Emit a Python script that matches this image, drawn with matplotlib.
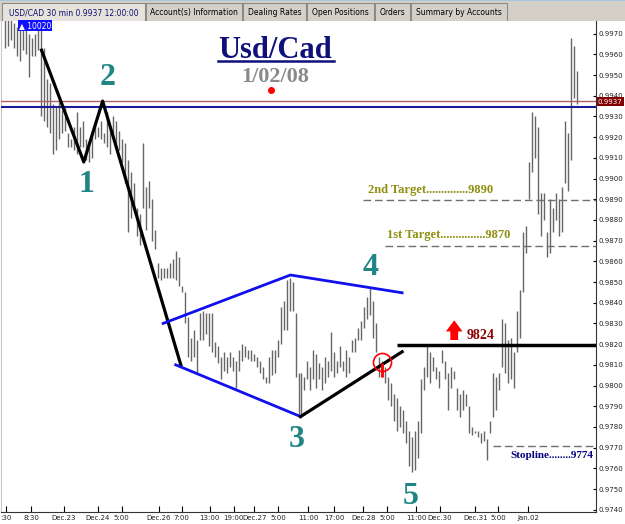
import matplotlib
matplotlib.use('Agg')
import matplotlib.pyplot as plt
from matplotlib.patches import Rectangle
from matplotlib.ticker import MultipleLocator, FormatStrFormatter

# 30 min bars, USD/CAD (price in pips: 9935 -> 0.9935)
highs = [
    9985, 9985, 9980, 9975, 9973, 9974, 9973, 9972, 9970, 9968,
    9970, 9972, 9975, 9963, 9948, 9946, 9936, 9935, 9937, 9933,
    9934, 9922, 9919, 9925, 9932, 9925, 9928, 9919, 9917, 9922,
    9927, 9925, 9928, 9922, 9932, 9925, 9930, 9928, 9923, 9919,
    9917, 9909, 9903, 9898, 9886, 9883, 9917, 9896, 9899, 9890,
    9875, 9859, 9857, 9857, 9857, 9859, 9861, 9865, 9862, 9848,
    9845, 9833, 9823, 9827, 9822, 9835, 9836, 9835, 9835, 9835,
    9821, 9819, 9814, 9816, 9814, 9816, 9814, 9812, 9817, 9820,
    9819, 9817, 9817, 9815, 9814, 9812, 9809, 9804, 9814, 9817,
    9817, 9822, 9838, 9841, 9851, 9852, 9850, 9835, 9806, 9806,
    9804, 9812, 9809, 9817, 9815, 9811, 9809, 9814, 9812, 9826,
    9816, 9812, 9819, 9812, 9817, 9814, 9822, 9823, 9828, 9831,
    9838, 9843, 9847, 9841, 9830, 9814, 9812, 9809, 9804, 9801,
    9796, 9794, 9790, 9788, 9783, 9778, 9775, 9778, 9783, 9803,
    9809, 9819, 9816, 9814, 9809, 9807, 9817, 9812, 9806, 9809,
    9807, 9799, 9796, 9798, 9796, 9790, 9780, 9778, 9778, 9777,
    9778, 9774, 9783, 9806, 9804, 9806, 9832, 9830, 9822, 9823,
    9816, 9836, 9846, 9874, 9877, 9908, 9932, 9930, 9925, 9893,
    9893, 9874, 9890, 9886, 9893, 9890, 9896, 9928, 9922, 9968,
    9964, 9952,
]
lows = [
    9963, 9964, 9967, 9963, 9959, 9957, 9962, 9960, 9949, 9959,
    9959, 9962, 9930, 9928, 9925, 9922, 9912, 9914, 9919, 9922,
    9923, 9915, 9915, 9914, 9912, 9915, 9915, 9909, 9908, 9910,
    9919, 9920, 9919, 9917, 9915, 9912, 9920, 9915, 9914, 9908,
    9898, 9874, 9881, 9885, 9872, 9868, 9886, 9875, 9886, 9870,
    9866, 9852, 9851, 9852, 9852, 9852, 9852, 9851, 9848, 9845,
    9830, 9814, 9812, 9814, 9806, 9822, 9822, 9825, 9819, 9816,
    9814, 9811, 9803, 9807, 9806, 9809, 9807, 9799, 9807, 9812,
    9814, 9813, 9812, 9812, 9809, 9806, 9803, 9801, 9801, 9805,
    9806, 9814, 9820, 9827, 9827, 9836, 9836, 9804, 9785, 9786,
    9798, 9803, 9798, 9803, 9799, 9803, 9798, 9801, 9804, 9807,
    9804, 9806, 9809, 9807, 9804, 9806, 9816, 9816, 9822, 9822,
    9828, 9832, 9834, 9823, 9816, 9804, 9804, 9801, 9793, 9790,
    9783, 9778, 9780, 9777, 9772, 9761, 9758, 9759, 9765, 9777,
    9798, 9804, 9801, 9807, 9803, 9799, 9811, 9803, 9788, 9799,
    9803, 9788, 9785, 9788, 9790, 9777, 9776, 9777, 9775, 9772,
    9773, 9764, 9777, 9785, 9788, 9798, 9809, 9806, 9801, 9803,
    9799, 9816, 9823, 9845, 9864, 9890, 9903, 9910, 9883, 9872,
    9880, 9862, 9864, 9874, 9880, 9872, 9874, 9898, 9894, 9909,
    9939, 9936,
]

# time axis (bar index)
tick_pos = [0.3, 8.7, 19.7, 31, 39, 51.3, 59, 68.3, 76.3, 83.2, 91.3,
            101.3, 110, 119.7, 127.7, 137.3, 145.3, 157, 164.7, 174.7]
tick_labels = [':30', '8:30', 'Dec.23', 'Dec.24', '5:00', 'Dec.26', '7:00',
               '13:00', '19:00', 'Dec.27', '5:00', '11:00', '17:00', 'Dec.28',
               '5:00', '11:00', 'Dec.30', 'Dec.31', '5:00', 'Jan.02']

# drawn wave lines
zigzag_x = [12.2, 26.3, 32.6, 58.7]
zigzag_y = [9962, 9908, 9937.4, 9810]
upper_x = [52.8, 95.3, 132.6]
upper_y = [9830, 9853.4, 9844.8]
lower_x = [57, 98.7]
lower_y = [9810, 9785]
trend_x = [98.7, 132.6]
trend_y = [9785, 9816.3]

# wave counts
wave_labels = ['1', '2', '3', '4', '5']
wave_x = [27.3, 34.3, 97.3, 122, 135.3]
wave_y = [9897, 9949, 9774, 9857, 9746.5]

# levels
level_blue = 9934.5
level_red = 9937.4
breakout = 9819.6
target1 = 9867.2
target2 = 9889.6
stopline = 9770.8

serif = ['Liberation Serif', 'DejaVu Serif']
teal = '#1f8585'

fig = plt.figure(figsize=(6.25, 5.24), dpi=100)
fig.patch.set_facecolor('white')
ax = fig.add_axes([1 / 625, 1 - 512 / 524, 595 / 625, 491 / 524])

p = lambda v: v / 10000.0
idx = list(range(len(highs)))
ax.vlines(idx, [p(v) for v in lows], [p(v) for v in highs], color='#666666', lw=1.0, zorder=2)

x0, x1 = -1.333, 197.33
ax.set_xlim(x0, x1)
ax.set_ylim(0.97389, 0.99761)

# horizontal levels
ax.axhline(p(level_red), color='#b06060', lw=1, zorder=3)
ax.axhline(p(level_blue), color='#1a1a9a', lw=1.5, zorder=3)
ax.hlines(p(breakout), 130.9, x1, color='black', lw=2.5, zorder=4)
dash = (0, (5.5, 2.8))
ax.hlines(p(target2), 119.7, x1, color='#707070', lw=1, linestyles=dash, zorder=3)
ax.hlines(p(target1), 127, x1, color='#707070', lw=1, linestyles=dash, zorder=3)
ax.hlines(p(stopline), 163, x1, color='#707070', lw=1, linestyles=dash, zorder=3)

# pattern lines
ax.plot(zigzag_x, [p(v) for v in zigzag_y], color='black', lw=2.3, zorder=4)
ax.plot(upper_x, [p(v) for v in upper_y], color='#1010ee', lw=2, zorder=4)
ax.plot(lower_x, [p(v) for v in lower_y], color='#1010ee', lw=2, zorder=4)
ax.plot(trend_x, [p(v) for v in trend_y], color='black', lw=2.3, zorder=4)

for lab, wx, wy in zip(wave_labels, wave_x, wave_y):
    ax.text(wx, p(wy), lab, family=serif, fontweight='bold', fontsize=23,
            color=teal, ha='center', va='center', zorder=5)

# title
ax.text(90.3, p(9958.2), 'Usd/Cad', family=serif, fontweight='bold', fontsize=22,
        color='#10107a', ha='center', va='baseline', zorder=5)
ax.plot([71, 109.7], [p(9956.6), p(9956.6)], color='#10107a', lw=1.8, zorder=5)
ax.text(90.3, p(9946.6), '1/02/08', family=serif, fontweight='bold', fontsize=16,
        color='#8a8a8a', ha='center', va='baseline', zorder=5)
ax.plot([88.7], [p(9942.8)], 'o', color='red', ms=4, zorder=5)

# targets and stop
ax.text(121.3, p(9893.0), '2nd Target' + '.' * 14 + '9890', family=serif, fontweight='bold',
        fontsize=9, color='#8f8f10', va='baseline', zorder=5)
ax.text(127.7, p(9871.3), '1st Target' + '.' * 15 + '9870', family=serif, fontweight='bold',
        fontsize=9, color='#8f8f10', va='baseline', zorder=5)
ax.text(168.7, p(9765.0), 'Stopline' + '.' * 8 + '9774', family=serif, fontweight='bold',
        fontsize=8, color='#000080', va='baseline', zorder=5)
ax.text(154, p(9822.3), '9824', family=serif, fontweight='bold', fontsize=10,
        color='#8b0000', va='baseline', zorder=5)
ax.annotate('', xy=(150, p(9831.5)), xytext=(150, p(9822.0)),
            arrowprops=dict(arrowstyle='simple,head_width=1.5,head_length=1.0,tail_width=0.7',
                            color='red', lw=0, mutation_scale=8,
                            shrinkA=0, shrinkB=0), zorder=5)

# breakout circle
ax.plot([126], [p(9811.4)], 'o', mfc='none', mec='red', mew=1.2, ms=13, zorder=5)
ax.vlines(126, p(9804), p(9811), color='red', lw=2, zorder=5)

# axes styling
ax.yaxis.tick_right()
ax.yaxis.set_major_locator(MultipleLocator(0.001))
ax.yaxis.set_major_formatter(FormatStrFormatter('%.4f'))
ax.tick_params(axis='y', direction='in', length=2.5, width=0.8, pad=1.5,
               labelsize=5, labelcolor='#222222')
ax.set_xticks(tick_pos)
ax.set_xticklabels(tick_labels)
ax.tick_params(axis='x', direction='in', length=4, width=0.8, pad=2,
               labelsize=5, labelcolor='#222222')
for lab in ax.get_xticklabels() + ax.get_yticklabels():
    lab.set_family('DejaVu Sans')
ax.spines['top'].set_visible(False)
ax.spines['left'].set_color('#c8c8c8')
ax.spines['right'].set_color('#333333')
ax.spines['bottom'].set_color('#333333')

# current price box and high marker
fig.text(598 / 625, 1 - 101.5 / 524, '0.9937', fontsize=5, color='white', va='center',
         family='DejaVu Sans',
         bbox=dict(boxstyle='square,pad=0.15', fc='#800000', ec='none'))
fig.text(19 / 625, 1 - 25.5 / 524, '\u25b2 10020', fontsize=5.5, color='white', va='center',
         family='DejaVu Sans',
         bbox=dict(boxstyle='square,pad=0.12', fc='#1010ff', ec='none'))

# tab bar
tab = fig.add_axes([0, 1 - 21 / 524, 1, 21 / 524])
tab.set_xlim(0, 625)
tab.set_ylim(21, 0)
tab.axis('off')
tab.add_patch(Rectangle((0, 0), 625, 21, fc='#d4d0c8', ec='none'))
tab.add_patch(Rectangle((0, 0), 625, 1.2, fc='#a8c4e0', ec='none'))
tabs = [(2, 145, 'USD/CAD 30 min 0.9937 12:00:00'), (146, 242, 'Account(s) Information'),
        (243, 306, 'Dealing Rates'), (307, 374, 'Open Positions'), (375, 410, 'Orders'),
        (411, 507, 'Summary by Accounts')]
for i, (a, b, name) in enumerate(tabs):
    tab.add_patch(Rectangle((a, 3), b - a, 19, fc='#e6e3dc' if i == 0 else '#d4d0c8',
                            ec='#8a8a8a', lw=0.8))
    tab.text((a + b) / 2, 12.5, name, fontsize=5.5, family='DejaVu Sans',
             color='#101070' if i == 0 else 'black', ha='center', va='center')

fig.savefig('out.png', dpi=100)
